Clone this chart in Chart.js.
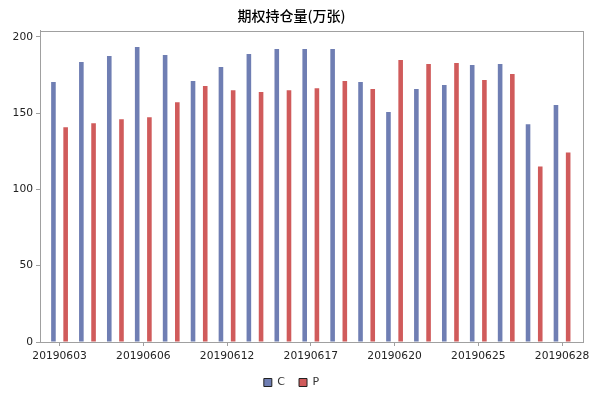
<!DOCTYPE html>
<html>
<head>
<meta charset="utf-8">
<script src="https://cdn.jsdelivr.net/npm/chart.js@4/dist/chart.umd.min.js"></script>
<style>
    html, body { margin: 0; padding: 0; background: #fff; }
    #wrap { width: 600px; height: 400px; }
</style>
</head>
<body>
<div id="wrap"><canvas id="grafico"></canvas></div>
<script>
const fechas = ['20190603', '20190604', '20190605', '20190606', '20190610', '20190611', '20190612',
    '20190613', '20190614', '20190617', '20190618', '20190619', '20190620', '20190621',
    '20190624', '20190625', '20190626', '20190627', '20190628'];
const valoresC = [170.4, 183.6, 187.5, 193.4, 188.2, 171.1, 180.3, 188.8, 192.1, 192.1,
    192.1, 170.4, 150.7, 165.8, 168.4, 181.6, 182.2, 142.8, 155.3];
const valoresP = [140.8, 143.4, 146.1, 147.4, 157.2, 167.8, 165.1, 163.8, 165.1, 166.4,
    171.1, 165.8, 184.9, 182.2, 182.9, 171.7, 175.7, 115.1, 124.3];
const ticksY = [0, 50, 100, 150, 200];
const ticksX = [0, 3, 6, 9, 12, 15, 18];

const gris = '#a0a0a0';
const fuente = "'DejaVu Sans', sans-serif";

// marco completo alrededor del area del grafico
const marco = {
    id: 'marco',
    afterDatasetsDraw(chart) {
        const a = chart.chartArea;
        const ctx = chart.ctx;
        ctx.save();
        ctx.strokeStyle = gris;
        ctx.lineWidth = 1;
        ctx.strokeRect(Math.round(a.left) + 0.5, Math.round(a.top) + 0.5,
            Math.round(a.right - a.left), Math.round(a.bottom - a.top));
        ctx.restore();
    }
};

const ctx = document.getElementById('grafico').getContext('2d');
new Chart(ctx, {
    type: 'bar',
    data: {
        datasets: [{
            label: 'C',
            data: valoresC.map((v, i) => ({ x: i, y: v })),
            backgroundColor: '#6F7EB3',
            borderWidth: 0
        }, {
            label: 'P',
            data: valoresP.map((v, i) => ({ x: i, y: v })),
            backgroundColor: '#D05B5B',
            borderWidth: 0
        }]
    },
    options: {
        responsive: true,
        maintainAspectRatio: false,
        animation: false,
        categoryPercentage: 0.874,
        barPercentage: 0.377,
        layout: { padding: { left: 0, right: 17, top: 0, bottom: 2 } },
        plugins: {
            tooltip: { enabled: false },
            title: {
                display: true,
                text: '期权持仓量(万张)',
                color: '#000',
                font: { family: "'Noto Sans CJK SC', sans-serif", size: 14, weight: 500 },
                padding: { top: 7, bottom: 7 }
            },
            legend: {
                position: 'bottom',
                labels: {
                    color: '#333',
                    font: { family: fuente, size: 11 },
                    boxWidth: 8,
                    boxHeight: 8,
                    padding: 14,
                    generateLabels(chart) {
                        return chart.data.datasets.map((ds, i) => ({
                            text: ds.label,
                            fillStyle: ds.backgroundColor,
                            strokeStyle: '#222',
                            lineWidth: 1,
                            fontColor: '#333',
                            datasetIndex: i
                        }));
                    }
                }
            }
        },
        scales: {
            x: {
                type: 'linear',
                min: -0.7,
                max: 18.75,
                offset: false,
                afterBuildTicks(scale) {
                    scale.ticks = ticksX.map(v => ({ value: v }));
                },
                afterFit(scale) { scale.height = 21; },
                grid: { offset: false, drawOnChartArea: false, drawTicks: true, tickLength: 4, color: gris },
                border: { display: true, color: gris },
                ticks: {
                    autoSkip: false,
                    maxRotation: 0,
                    padding: 4,
                    color: '#222',
                    font: { family: fuente, size: 10.7 },
                    callback: (v) => fechas[v]
                }
            },
            y: {
                min: 0,
                max: 204,
                afterBuildTicks(scale) {
                    scale.ticks = ticksY.map(v => ({ value: v }));
                },
                afterFit(scale) { scale.width = 40; },
                grid: { drawOnChartArea: false, drawTicks: true, tickLength: 4, color: gris },
                border: { display: true, color: gris },
                ticks: {
                    padding: 3,
                    color: '#222',
                    font: { family: fuente, size: 10.7 }
                }
            }
        }
    },
    plugins: [marco]
});
</script>
</body>
</html>
